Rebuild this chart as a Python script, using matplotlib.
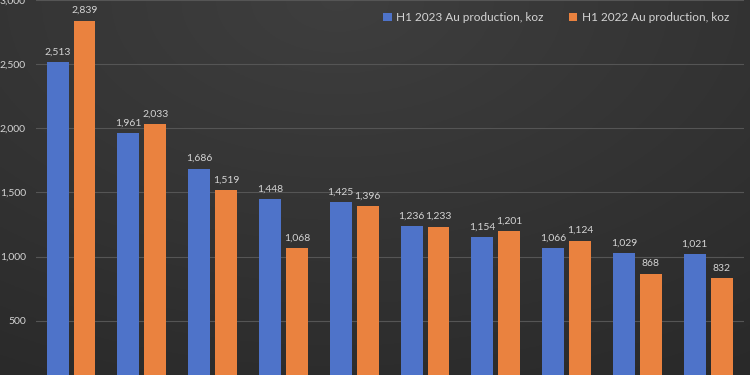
import numpy as np
import matplotlib.pyplot as plt
from matplotlib.ticker import FuncFormatter

# values in koz
h1_2023 = [2513, 1961, 1686, 1448, 1425, 1236, 1154, 1066, 1029, 1021]
h1_2022 = [2839, 2033, 1519, 1068, 1396, 1233, 1201, 1124, 868, 832]
series_names = ['H1 2023 Au production, koz', 'H1 2022 Au production, koz']
y_ticks = [500, 1000, 1500, 2000, 2500, 3000]

plt.rcParams['font.family'] = ['Lato', 'DejaVu Sans']

blue = '#4E73C9'
orange = '#EA823F'
text_col = '#D4D4D4'

fig = plt.figure(figsize=(7.5, 3.75), dpi=100)

# dark gradient background
bg = fig.add_axes([0, 0, 1, 1], zorder=0)
yy, xx = np.mgrid[0:1:200j, 0:1:400j]
shade = 0.245 - 0.07 * np.sqrt(((xx - 0.45) * 1.2) ** 2 + (yy - 0.0) ** 2)
bg.imshow(np.dstack([shade, shade, shade]).clip(0, 1), aspect='auto', extent=[0, 1, 0, 1])
bg.axis('off')

ax = fig.add_axes([0.0475, 0, 0.944, 1], zorder=1)
ax.patch.set_alpha(0)

x = np.arange(len(h1_2023))
w = 0.31
off = 0.19
b1 = ax.bar(x - off, h1_2023, w, color=blue, label=series_names[0], zorder=3)
b2 = ax.bar(x + off, h1_2022, w, color=orange, label=series_names[1], zorder=3)

for bars, vals in [(b1, h1_2023), (b2, h1_2022)]:
    for rect, v in zip(bars, vals):
        ax.annotate(f'{v:,}', (rect.get_x() + rect.get_width() / 2, v),
                    xytext=(0, 4), textcoords='offset points',
                    ha='center', va='bottom', fontsize=7.5, color=text_col)

ax.set_xlim(-0.5, len(x) - 0.5)
ax.set_ylim(77, 2962)
ax.set_yticks(y_ticks)
ax.yaxis.set_major_formatter(FuncFormatter(lambda v, p: f'{int(v):,}'))
ax.tick_params(axis='y', length=0, pad=7, labelsize=7.5, labelcolor=text_col)
ax.set_xticks([])
ax.grid(axis='y', color='#555555', linewidth=0.8, zorder=0)
for s in ax.spines.values():
    s.set_visible(False)
for lbl in ax.get_yticklabels():
    lbl.set_clip_on(False)

leg = fig.legend(handles=[b1, b2], loc='center left', bbox_to_anchor=(0.497, 0.953),
                 ncol=2, frameon=False, fontsize=8.5, labelcolor=text_col,
                 handlelength=0.7, handleheight=0.7, handletextpad=0.35,
                 columnspacing=2.2)

fig.savefig('out.png', dpi=100, facecolor='#2e2e2e')
